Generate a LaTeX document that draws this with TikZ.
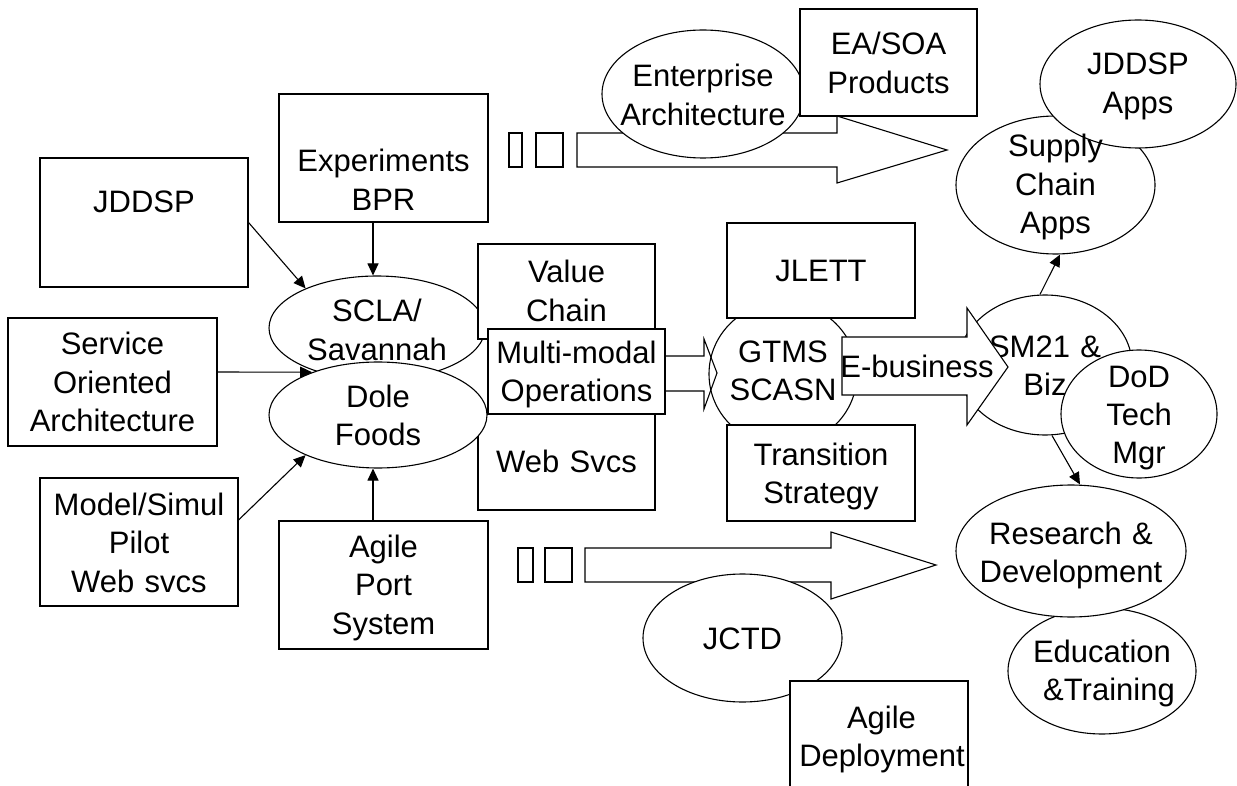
\documentclass[tikz,border=0pt]{standalone}
\usepackage{fontspec}
\setmainfont{Liberation Sans}
\usetikzlibrary{shapes.geometric,arrows.meta}
\begin{document}
\begin{tikzpicture}[x=1pt,y=-1pt,
  lw/.style={line width=1.1pt},
  fnt/.style={font=\fontsize{31}{38.5}\selectfont},
  shp/.style={lw,draw=black,fill=white,fnt,text width=200pt,align=center,
     inner xsep=-65pt,inner ysep=-20pt,text height=22pt},
  box/.style={shp,rectangle},
  ell/.style={shp,ellipse},
  txt/.style={fnt,text width=200pt,align=center,inner xsep=0pt,inner ysep=0pt,text height=22pt},
  blk/.style={lw,draw=black,fill=white,line join=miter},
  arr/.style={lw,-{Triangle[length=12pt,width=11pt]}}
]
\useasboundingbox (0,0) rectangle (1237,786);
\fill[white] (0,0) rectangle (1237,786);

% top block arrow
\draw[blk] (509,133) rectangle (522,167);
\draw[blk] (536,133) rectangle (563,167);
\draw[blk] (577,133) -- (837,133) -- (837,116) -- (947,150) -- (837,183) -- (837,167) -- (577,167) -- cycle;

\node[ell,minimum width=202pt,minimum height=128pt,text depth=36pt] (ea) at (703,94) {Enterprise\\Architecture};
\node[box,minimum width=177pt,minimum height=107pt,text depth=37pt] (easoa) at (888.5,62.5) {EA/SOA\\Products};

% supply chain / JDDSP apps
\node[ell,minimum width=199pt,minimum height=138pt] (sup) at (1055.5,185) {};
\node[ell,minimum width=196pt,minimum height=128pt,text depth=40pt] (japps) at (1138,84) {JDDSP\\Apps};
\node[txt,text depth=78pt] (suptxt) at (sup.center) {Supply\\Chain\\Apps};

% left boxes
\node[box,minimum width=208pt,minimum height=129pt,text depth=41pt] (jddsp) at (144,222.5) {JDDSP};
\node[box,minimum width=209pt,minimum height=128pt,text height=50pt,text depth=22pt] (exper) at (383.5,158) {Experiments\\BPR};
\node[box,minimum width=209pt,minimum height=128pt,text depth=76pt] (soa) at (112.5,382) {Service\\Oriented\\Architecture};
\node[box,minimum width=198pt,minimum height=128pt,text depth=76pt] (model) at (139,542) {Model/Simul\\Pilot\\Web svcs};
\node[box,minimum width=209pt,minimum height=128pt,text depth=78pt] (aport) at (383.5,585) {Agile\\Port\\System};

\node[ell,minimum width=216pt,minimum height=104pt,text depth=34pt] (scla) at (377,328) {SCLA/\\Savannah};
\node[box,minimum width=177pt,minimum height=95pt,text depth=39pt] (vchain) at (566.5,291.5) {Value\\Chain};
\node[box,minimum width=177pt,minimum height=96pt,text height=42pt,text depth=22pt] (websvc) at (566.5,462) {Web Svcs};
\node[ell,minimum width=218pt,minimum height=106pt,text depth=38pt] (dole) at (378,415) {Dole\\Foods};
\node[box,minimum width=177pt,minimum height=85pt,text depth=39pt] (multi) at (576.5,371.5) {Multi-modal\\Operations};

% GTMS
\node[ell,minimum width=148pt,minimum height=144pt,text depth=46pt] (gtms) at (783,374) {GTMS\\SCASN};
\draw[lw,line join=miter] (665,356) -- (704,356) -- (704,339) -- (717,373) -- (704,409) -- (704,391) -- (665,391);
\node[box,minimum width=188pt,minimum height=95pt,text height=45pt,text depth=22pt] (jlett) at (821,270.5) {JLETT};
\node[box,minimum width=188pt,minimum height=96pt,text depth=38pt] (trans) at (821,473) {Transition\\Strategy};

% SM21 and e-business
\node[ell,minimum width=174pt,minimum height=140pt,text depth=38pt] (sm) at (1045,365) {SM21 \&\\Biz};
\draw[blk] (842,337) -- (967,337) -- (967,308) -- (1008,367) -- (967,425) -- (967,395) -- (842,395) -- cycle;
\node[fnt,anchor=base,inner sep=0pt] (ebiz) at (917,377) {E-business};
\node[ell,minimum width=156pt,minimum height=128pt,text depth=76pt] (dod) at (1139,414) {DoD\\Tech\\Mgr};

% bottom block arrow
\draw[blk] (518,548) rectangle (533,582);
\draw[blk] (545,548) rectangle (572,582);
\draw[blk] (585,548) -- (831,548) -- (831,532) -- (936,565) -- (831,599) -- (831,582) -- (585,582) -- cycle;
\node[ell,minimum width=199pt,minimum height=128pt,text height=44pt,text depth=22pt] (jctd) at (742.5,638) {JCTD};
\node[box,minimum width=178pt,minimum height=108pt,text depth=36pt] (adeploy) at (879,735) {\hspace*{5pt}Agile\\\hspace*{6pt}Deployment};

% right bottom ellipses
\node[ell,minimum width=188pt,minimum height=126pt,text depth=40pt] (edu) at (1102,671) {Education\\\hspace*{14pt}\&Training};
\node[ell,minimum width=230pt,minimum height=132pt,text depth=36pt] (rd) at (1071,551) {Research \&\\Development};

% connectors
\draw[arr] (jddsp.east) -- (scla.151);
\draw[arr] ([xshift=-10.5pt]exper.south) -- ([xshift=-4pt]scla.north);
\draw[arr] ([yshift=10pt]soa.east) -- (dole.147);
\draw[arr] ([yshift=22pt]model.east) -- (dole.209);
\draw[arr] ([xshift=-10.5pt]aport.north) -- ([xshift=-5pt]dole.south);
\draw[arr] ([xshift=-5pt]sm.north) -- ([xshift=4.5pt]sup.south);
\draw[arr] ([xshift=7pt]sm.south) -- ([xshift=9pt]rd.north);
\end{tikzpicture}
\end{document}
